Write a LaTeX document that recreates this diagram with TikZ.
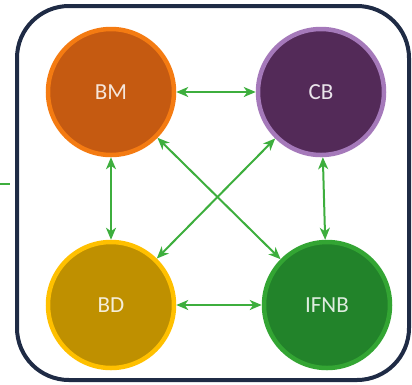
\documentclass[tikz,border=0pt]{standalone}
\usepackage{fontspec}
\setmainfont{Carlito}
\usetikzlibrary{arrows.meta}
\definecolor{frame}{HTML}{1F2B45}
\definecolor{arr}{HTML}{3DAE3D}
\definecolor{bmfill}{HTML}{C55A11}
\definecolor{bmline}{HTML}{F47B12}
\definecolor{cbfill}{HTML}{532A58}
\definecolor{cbline}{HTML}{A579BA}
\definecolor{bdfill}{HTML}{BF9000}
\definecolor{bdline}{HTML}{FFC000}
\definecolor{iffill}{HTML}{22832A}
\definecolor{ifline}{HTML}{33A533}
\begin{document}
\begin{tikzpicture}[x=1pt,y=-1pt,
  ent/.style={circle, minimum size=126pt, line width=4.5pt, inner sep=0pt,
    font=\fontsize{23}{26}\selectfont},
  link/.style={arr, line width=2pt, {Stealth[length=12pt,width=10pt,inset=3.5pt]}-{Stealth[length=12pt,width=10pt,inset=3.5pt]}}
]
\useasboundingbox (0,0) rectangle (412,384);
\draw[frame, line width=4pt, rounded corners=52pt] (17,6) rectangle (409,380);
\coordinate (s0) at (0,184);
\coordinate (s1) at (10,184);
\draw[arr, line width=1.8pt] (s0) -- (s1);
\node[ent, fill=bmfill, draw=bmline, text=white!85!bmfill] (BM) at (111,92) {BM};
\node[ent, fill=cbfill, draw=cbline, text=white!88!cbfill] (CB) at (321,92) {CB};
\node[ent, fill=bdfill, draw=bdline, text=white!85!bdfill] (BD) at (111,305) {BD};
\node[ent, fill=iffill, draw=ifline, text=white!85!iffill] (IF) at (327,305) {IFNB};
\draw[link] (BM) -- (CB);
\draw[link] (BM) -- (BD);
\draw[link] (CB) -- (IF);
\draw[link] (BD) -- (IF);
\draw[link] (BM) -- (IF);
\draw[link] (CB) -- (BD);
\end{tikzpicture}
\end{document}
